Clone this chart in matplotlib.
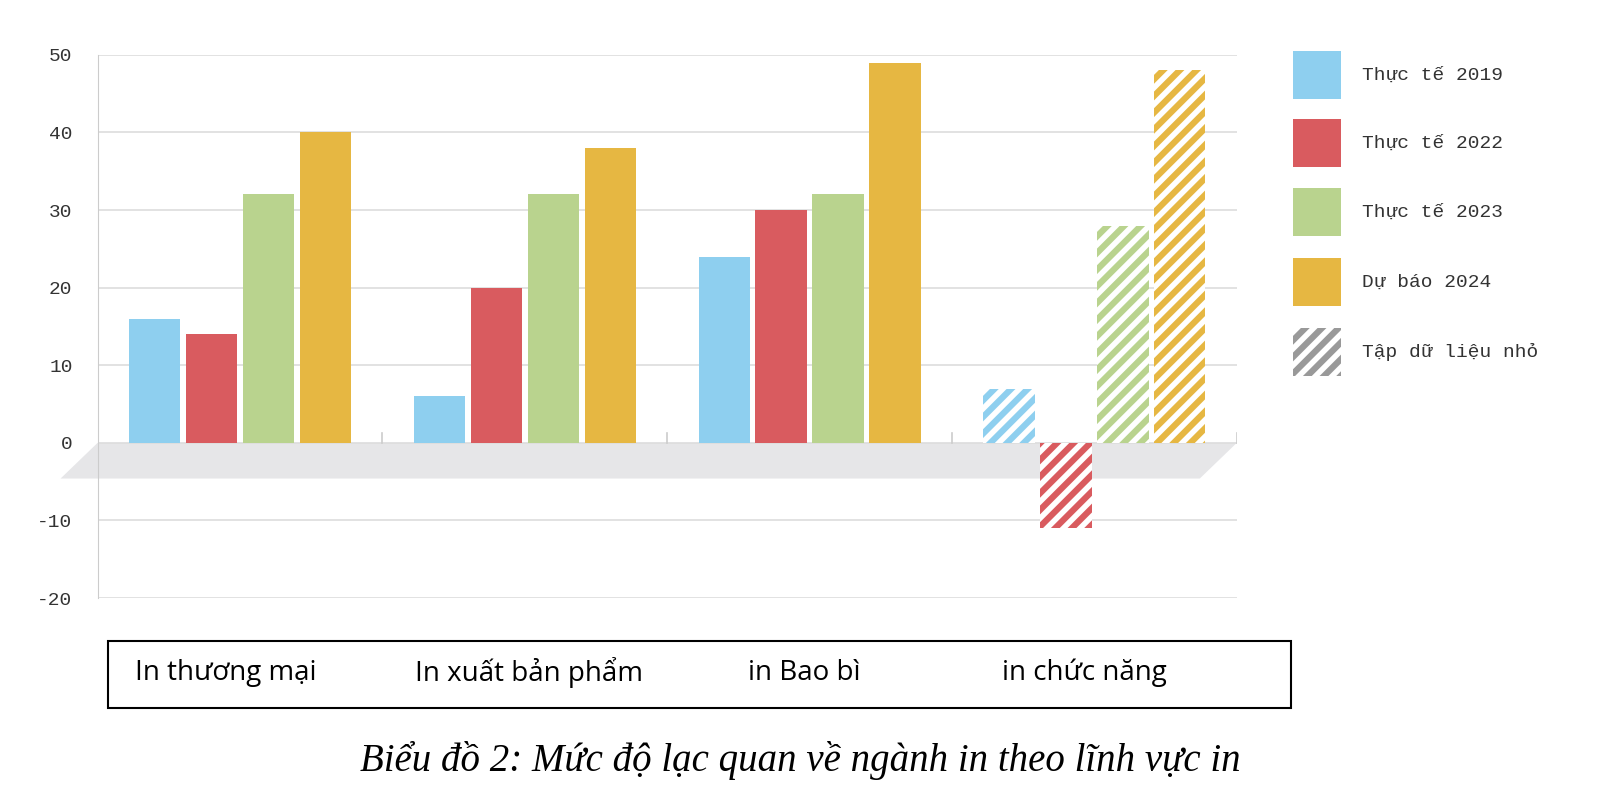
import matplotlib.pyplot as plt
from matplotlib.patches import Rectangle, Polygon

categories = ['In thương mại', 'In xuất bản phẩm', 'in Bao bì', 'in chức năng']
series = ['Thực tế 2019', 'Thực tế 2022', 'Thực tế 2023', 'Dự báo 2024']
colors = ['#8ecfef', '#d95b5f', '#b9d38e', '#e6b742']
values = [
    [16, 6, 24, 7],
    [14, 20, 30, -11],
    [32, 32, 32, 28],
    [40, 38, 49, 48],
]
small_sample = [False, False, False, True]
yticks = [-20, -10, 0, 10, 20, 30, 40, 50]

MONO = ['Liberation Mono', 'DejaVu Sans Mono']
plt.rcParams['hatch.linewidth'] = 4.5
fig = plt.figure(figsize=(16, 8.06), dpi=100)
ax = fig.add_axes([0.061, 0.258, 0.712, 0.674])

# mặt sàn xám ở mức 0
floor = Polygon([(0, 0), (4, 0), (3.87, -4.6), (-0.13, -4.6)], closed=True,
                facecolor='#e6e6e8', edgecolor='none', clip_on=False, zorder=1)
ax.add_patch(floor)

for i, s in enumerate(series):
    for g in range(4):
        x = g + 0.2 * (i + 1)
        v = values[i][g]
        if small_sample[g]:
            ax.bar(x, v, width=0.18, facecolor='white', edgecolor=colors[i],
                   hatch='//', linewidth=0, zorder=3)
        else:
            ax.bar(x, v, width=0.18, color=colors[i], zorder=3)

ax.set_xlim(0, 4)
ax.set_ylim(-20, 50)
ax.set_yticks(yticks)
ax.set_yticklabels([str(t) for t in yticks], family=MONO, fontsize=14, color='#333333')
ax.set_xticks([])
ax.grid(axis='y', color='#dddddd', linewidth=1.2, zorder=0)
for sp in ['top', 'right', 'bottom']:
    ax.spines[sp].set_visible(False)
ax.spines['left'].set_color('#cccccc')
ax.tick_params(axis='y', length=0, pad=18)
for g in range(1, 5):
    ax.plot([g, g], [0, 1.3], color='#cccccc', lw=1.2, zorder=2)

# chú giải
leg_y = [75, 143, 212, 282, 352]
labels = series + ['Tập dữ liệu nhỏ']
lcolors = colors + ['#999999']
for k, (lab, c) in enumerate(zip(labels, lcolors)):
    yc = 1 - leg_y[k] / 806
    if k < 4:
        p = Rectangle((1293 / 1600, yc - 24 / 806), 48 / 1600, 48 / 806,
                      transform=fig.transFigure, facecolor=c, edgecolor='none')
    else:
        p = Rectangle((1293 / 1600, yc - 24 / 806), 48 / 1600, 48 / 806,
                      transform=fig.transFigure, facecolor='white', edgecolor=c,
                      hatch='//', linewidth=0)
    fig.patches.append(p)
    fig.text(1362 / 1600, yc, lab, family=MONO, fontsize=14,
             color='#333333', va='center')

# hộp tên lĩnh vực
box = Rectangle((108 / 1600, 1 - 708 / 806), (1291 - 108) / 1600, 67 / 806,
                transform=fig.transFigure, facecolor='none', edgecolor='black', lw=1.5)
fig.patches.append(box)
for lab, xp in zip(categories, [135, 415, 748, 1002]):
    fig.text(xp / 1600, 1 - 673 / 806, lab, family='Open Sans', fontsize=20, va='center')

fig.text(800 / 1600, 1 - 760 / 806, 'Biểu đồ 2: Mức độ lạc quan về ngành in theo lĩnh vực in',
         family='Liberation Serif', style='italic', fontsize=28, ha='center', va='center')

fig.savefig('out.png')
